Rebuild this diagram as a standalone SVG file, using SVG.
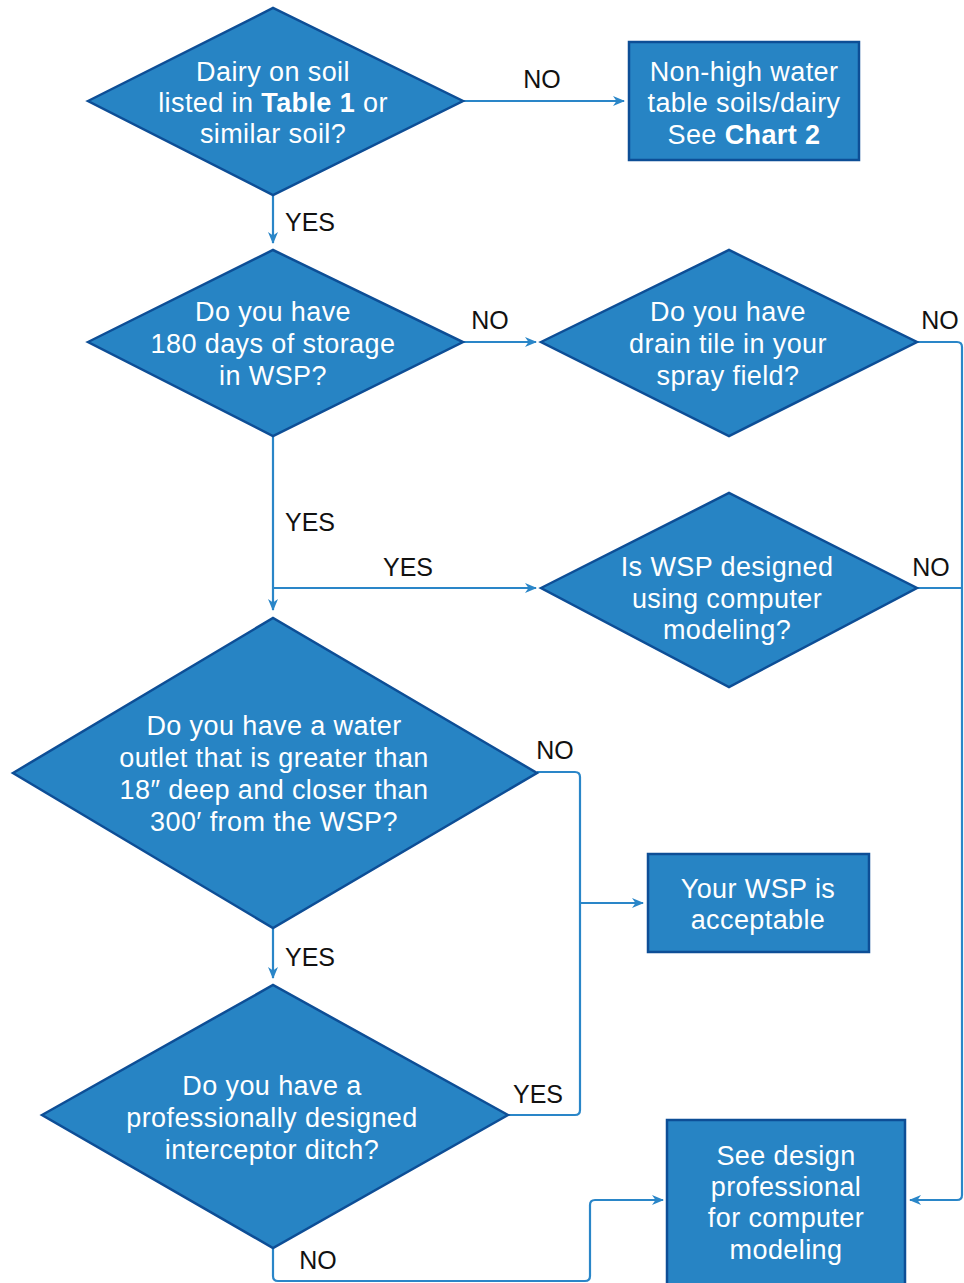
<svg xmlns="http://www.w3.org/2000/svg" width="964" height="1283" viewBox="0 0 964 1283">
<defs>
<marker id="arr" viewBox="0 0 12 10" refX="11" refY="5" markerWidth="12" markerHeight="10" markerUnits="userSpaceOnUse" orient="auto">
<path d="M0,0 L12,5 L0,10 L3.5,5 z" fill="#2A86C8"/>
</marker>
<style>
.shape{fill:#2784C4;stroke:#0D4E96;stroke-width:2.5;stroke-linejoin:miter}
.t{font-family:"Liberation Sans",Arial,sans-serif;font-size:27px;letter-spacing:0.4px;fill:#ffffff;text-anchor:middle}
.b{font-weight:bold}
.lbl{font-family:"Liberation Sans",Arial,sans-serif;font-size:25px;fill:#111111;text-anchor:middle}
.c{fill:none;stroke:#2A86C8;stroke-width:2.2;stroke-linejoin:round}
.ca{fill:none;stroke:#2A86C8;stroke-width:2.2;stroke-linejoin:round;marker-end:url(#arr)}
</style>
</defs>
<rect width="964" height="1283" fill="#ffffff"/>

<g id="connectors">
<path class="ca" d="M463,101 H624"/>
<path class="ca" d="M273,195 V243"/>
<path class="ca" d="M463,342 H536"/>
<path class="ca" d="M917,342 H957 Q962,342 962,347 V1195 Q962,1200 957,1200 H910"/>
<path class="c" d="M917,588 H962"/>
<path class="ca" d="M273,436 V610"/>
<path class="ca" d="M273,588 H536"/>
<path class="c" d="M537,772 H575 Q580,772 580,777 V1110 Q580,1115 575,1115 H508"/>
<path class="ca" d="M580,903 H643"/>
<path class="ca" d="M273,928 V978"/>
<path class="ca" d="M273,1248 V1276 Q273,1281 278,1281 H585 Q590,1281 590,1276 V1205 Q590,1200 595,1200 H663"/>
<text class="lbl" x="542" y="88">NO</text>
<text class="lbl" x="310" y="231">YES</text>
<text class="lbl" x="490" y="329">NO</text>
<text class="lbl" x="940" y="329">NO</text>
<text class="lbl" x="931" y="576">NO</text>
<text class="lbl" x="310" y="531">YES</text>
<text class="lbl" x="408" y="576">YES</text>
<text class="lbl" x="555" y="759">NO</text>
<text class="lbl" x="538" y="1103">YES</text>
<text class="lbl" x="310" y="966">YES</text>
<text class="lbl" x="318" y="1269">NO</text>
</g>

<g id="n1">
<polygon class="shape" points="88,101 273,8 463,101 273,195"/>
<text class="t" x="273" y="81">Dairy on soil</text>
<text class="t" x="273" y="112">listed in <tspan class="b">Table 1</tspan> or</text>
<text class="t" x="273" y="143">similar soil?</text>
</g>

<g id="n2">
<rect class="shape" x="629" y="42" width="230" height="118"/>
<text class="t" x="744" y="81">Non-high water</text>
<text class="t" x="744" y="112">table soils/dairy</text>
<text class="t" x="744" y="144">See <tspan class="b">Chart 2</tspan></text>
</g>

<g id="n3">
<polygon class="shape" points="88,342 273,250 463,342 273,436"/>
<text class="t" x="273" y="321">Do you have</text>
<text class="t" x="273" y="353">180 days of storage</text>
<text class="t" x="273" y="385">in WSP?</text>
</g>

<g id="n4">
<polygon class="shape" points="541,342 729,250 917,342 729,436"/>
<text class="t" x="728" y="321">Do you have</text>
<text class="t" x="728" y="353">drain tile in your</text>
<text class="t" x="728" y="385">spray field?</text>
</g>

<g id="n5">
<polygon class="shape" points="541,588 729,493 917,588 729,687"/>
<text class="t" x="727" y="576">Is WSP designed</text>
<text class="t" x="727" y="608">using computer</text>
<text class="t" x="727" y="639">modeling?</text>
</g>

<g id="n6">
<polygon class="shape" points="13,773 273,618 537,773 273,928"/>
<text class="t" x="274" y="735">Do you have a water</text>
<text class="t" x="274" y="767">outlet that is greater than</text>
<text class="t" x="274" y="799">18″ deep and closer than</text>
<text class="t" x="274" y="831">300′ from the WSP?</text>
</g>

<g id="n7">
<rect class="shape" x="648" y="854" width="221" height="98"/>
<text class="t" x="758" y="898">Your WSP is</text>
<text class="t" x="758" y="929">acceptable</text>
</g>

<g id="n8">
<polygon class="shape" points="42,1115 273,985 508,1115 273,1248"/>
<text class="t" x="272" y="1095">Do you have a</text>
<text class="t" x="272" y="1127">professionally designed</text>
<text class="t" x="272" y="1159">interceptor ditch?</text>
</g>

<g id="n9">
<rect class="shape" x="667" y="1120" width="238" height="170"/>
<text class="t" x="786" y="1165">See design</text>
<text class="t" x="786" y="1196">professional</text>
<text class="t" x="786" y="1227">for computer</text>
<text class="t" x="786" y="1259">modeling</text>
</g>
</svg>
